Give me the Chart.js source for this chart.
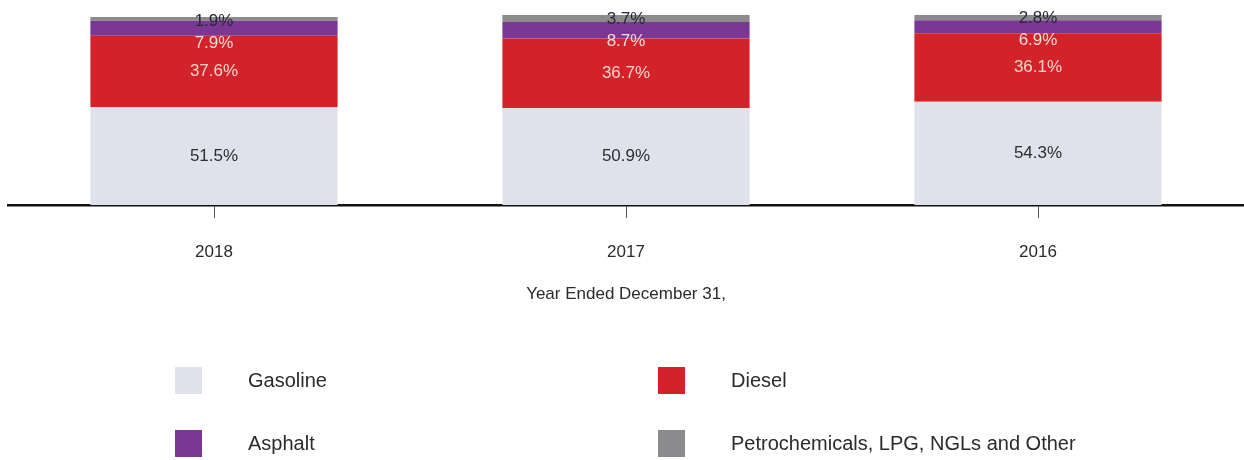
<!DOCTYPE html>
<html>
<head>
<meta charset="utf-8">
<title>Refined product yield</title>
<script src="https://cdn.jsdelivr.net/npm/chart.js@4.4.1/dist/chart.umd.min.js"></script>
<style>
    html, body { margin: 0; padding: 0; background: #fff; }
    #wrap { position: relative; width: 1244px; height: 460px; }
</style>
</head>
<body>
<div id="wrap"><canvas id="yieldChart" width="1244" height="460"></canvas></div>
<script>
// Chart data
const years = ['2018', '2017', '2016'];
const seriesNames = ['Gasoline', 'Diesel', 'Asphalt', 'Petrochemicals, LPG, NGLs and Other'];
const gasoline = [51.5, 50.9, 54.3];
const diesel = [37.6, 36.7, 36.1];
const asphalt = [7.9, 8.7, 6.9];
const other = [1.9, 3.7, 2.8];

const FONT = "'Liberation Sans', Arial, sans-serif";
const colors = ['#dfe2ea', '#d2222a', '#7b3794', '#8b8b8e'];
const labelColors = ['#2e2e2e', '#f6d4c9', '#f3dcd8', '#2a2838'];

// Percent labels inside the stacks, pushed down when segments are too thin
const stackLabels = {
    id: 'stackLabels',
    afterDatasetsDraw(chart) {
        const ctx = chart.ctx;
        ctx.save();
        ctx.font = '17px ' + FONT;
        ctx.textAlign = 'center';
        ctx.textBaseline = 'middle';
        const count = chart.data.labels.length;
        for (let i = 0; i < count; i++) {
            let prevY = null;
            // go from the top segment down
            for (let d = chart.data.datasets.length - 1; d >= 0; d--) {
                const el = chart.getDatasetMeta(d).data[i];
                const top = Math.min(el.y, el.base);
                let y = (el.y + el.base) / 2;
                if (prevY === null) y = Math.max(y, top + 4);
                else y = Math.max(y, prevY + 22);
                prevY = y;
                ctx.fillStyle = labelColors[d];
                ctx.fillText(chart.data.datasets[d].data[i].toFixed(1) + '%', el.x, y);
            }
        }
        ctx.restore();
    }
};

// Two column legend below the axis
const boxLegend = {
    id: 'boxLegend',
    afterDraw(chart) {
        const ctx = chart.ctx;
        const cols = [175, 658];
        const rows = [380, 443];
        ctx.save();
        ctx.font = '20px ' + FONT;
        ctx.textBaseline = 'middle';
        ctx.textAlign = 'left';
        chart.data.datasets.forEach((ds, k) => {
            const x = cols[k % 2];
            const y = rows[Math.floor(k / 2)];
            ctx.fillStyle = ds.backgroundColor;
            ctx.fillRect(x, y - 13, 27, 27);
            ctx.fillStyle = '#2b2b2b';
            ctx.fillText(ds.label, x + 73, y + 1);
        });
        ctx.restore();
    }
};

const allSeries = [gasoline, diesel, asphalt, other];

new Chart(document.getElementById('yieldChart'), {
    type: 'bar',
    data: {
        labels: years,
        datasets: allSeries.map((vals, k) => ({
            label: seriesNames[k],
            data: vals,
            backgroundColor: colors[k],
            borderWidth: 0,
            barPercentage: 0.6,
            categoryPercentage: 1.0
        }))
    },
    options: {
        responsive: false,
        animation: false,
        layout: { padding: { top: 15, left: 8, right: 0, bottom: 155 } },
        plugins: {
            legend: { display: false },
            tooltip: { enabled: false }
        },
        scales: {
            x: {
                stacked: true,
                afterFit: (scale) => { scale.height = 100; },
                grid: {
                    offset: false,
                    drawOnChartArea: false,
                    drawTicks: true,
                    tickLength: 13,
                    tickColor: '#555',
                    tickWidth: 1
                },
                border: { display: true, color: '#111', width: 2.5 },
                ticks: {
                    color: '#2b2b2b',
                    padding: 24,
                    font: { family: FONT, size: 17 }
                },
                title: {
                    display: true,
                    text: 'Year Ended December 31,',
                    color: '#2b2b2b',
                    padding: { top: 0, bottom: 0 },
                    font: { family: FONT, size: 17 }
                }
            },
            y: {
                stacked: true,
                display: false,
                min: 0,
                max: 100
            }
        }
    },
    plugins: [stackLabels, boxLegend]
});
</script>
</body>
</html>
